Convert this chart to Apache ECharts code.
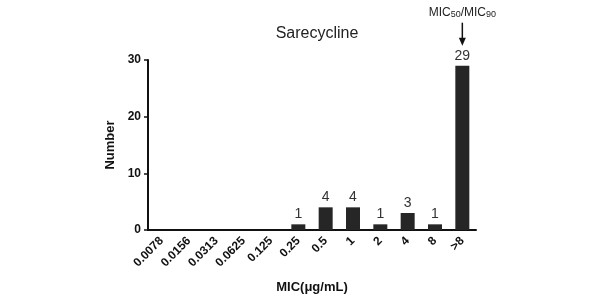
<!DOCTYPE html>
<html>
<head>
<meta charset="utf-8">
<script src="https://cdn.jsdelivr.net/npm/echarts@6/dist/echarts.min.js"></script>
<style>
  html, body { margin: 0; padding: 0; background: #fff; }
  #chart { width: 600px; height: 300px; }
</style>
</head>
<body>
<div id="chart"></div>
<script>
// MIC categories and isolate counts
const categories = ['0.0078', '0.0156', '0.0313', '0.0625', '0.125', '0.25', '0.5', '1', '2', '4', '8', '>8'];
const counts = [0, 0, 0, 0, 0, 1, 4, 4, 1, 3, 1, 29];
const yTicks = [0, 10, 20, 30];
const markedCategory = '>8';

const font = 'Arial, "Liberation Sans", sans-serif';
const chart = echarts.init(document.getElementById('chart'));

chart.setOption({
  animation: false,
  title: {
    text: 'Sarecycline',
    left: 312,
    top: 21,
    textAlign: 'center',
    textStyle: { fontFamily: font, fontSize: 16, fontWeight: 'normal', color: '#222' },
  },
  grid: { left: 148, right: 124, top: 60, bottom: 70 },
  xAxis: {
    type: 'category',
    data: categories,
    name: 'MIC(μg/mL)',
    nameLocation: 'middle',
    nameGap: 51,
    nameTextStyle: { fontFamily: font, fontSize: 13, fontWeight: 'bold', color: '#111' },
    axisLine: { lineStyle: { color: '#111', width: 2 } },
    axisTick: { alignWithLabel: true, length: 4, lineStyle: { color: '#111', width: 1.5 } },
    axisLabel: { rotate: 45, margin: 9, fontFamily: font, fontSize: 12, fontWeight: 'bold', color: '#111' },
  },
  yAxis: {
    type: 'value',
    min: 0,
    max: 30,
    interval: 10,
    name: 'Number',
    nameLocation: 'middle',
    nameGap: 25,
    nameTextStyle: { fontFamily: font, fontSize: 13, fontWeight: 'bold', color: '#111' },
    axisLine: { show: true, lineStyle: { color: '#111', width: 2 } },
    axisTick: { show: true, length: 4, lineStyle: { color: '#111', width: 1.5 } },
    axisLabel: {
      margin: 7,
      fontFamily: font, fontSize: 12, fontWeight: 'bold', color: '#111',
      customValues: yTicks,
    },
    splitLine: { show: false },
  },
  series: [{
    type: 'bar',
    data: counts,
    barWidth: 14,
    itemStyle: { color: '#262626' },
    label: {
      show: true,
      position: 'top',
      distance: 3,
      fontFamily: font,
      fontSize: 14,
      color: '#333',
      formatter: (p) => (p.value > 0 ? String(p.value) : ''),
    },
  }],
});

// MIC50/MIC90 annotation: arrow above the marked bar
const idx = categories.indexOf(markedCategory);
const barTop = chart.convertToPixel({ gridIndex: 0 }, [idx, counts[idx]]);
const ax = barTop[0];
const tipY = barTop[1] - 20;
chart.setOption({
  graphic: [
    {
      type: 'line',
      shape: { x1: ax, y1: tipY - 23, x2: ax, y2: tipY - 5 },
      style: { stroke: '#111', lineWidth: 1.5 },
    },
    {
      type: 'polygon',
      shape: { points: [[ax - 3.5, tipY - 8], [ax + 3.5, tipY - 8], [ax, tipY]] },
      style: { fill: '#111' },
    },
    {
      type: 'text',
      x: ax,
      y: tipY - 27,
      style: {
        text: '{m|MIC}{s|50}{m|/MIC}{s|90}',
        align: 'center',
        verticalAlign: 'bottom',
        rich: {
          m: { fontFamily: font, fontSize: 12, fill: '#222', verticalAlign: 'bottom', lineHeight: 15 },
          s: { fontFamily: font, fontSize: 9, fill: '#222', verticalAlign: 'bottom', lineHeight: 15, padding: [4, 0, 0, 0] },
        },
      },
    },
  ],
});
</script>
</body>
</html>
